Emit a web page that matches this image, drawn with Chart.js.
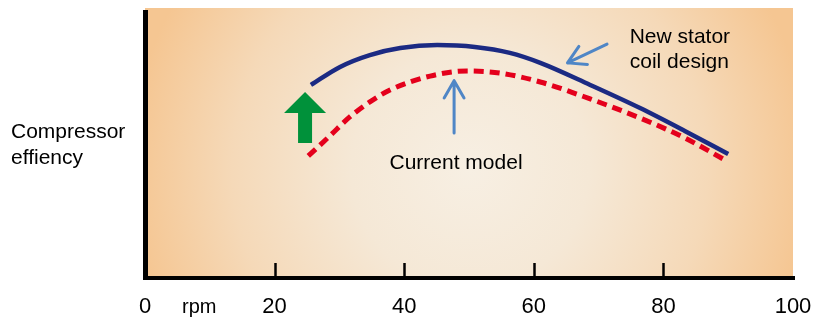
<!DOCTYPE html>
<html><head><meta charset="utf-8">
<script src="https://cdn.jsdelivr.net/npm/chart.js@4/dist/chart.umd.min.js"></script>
<style>html,body{margin:0;padding:0;background:#fff}#wrap{width:815px;height:322px;position:relative}</style>
</head><body><div id="wrap"><canvas id="c" width="815" height="322"></canvas></div>
<script>
// ---- data ----
const xTickValues = [0, 20, 40, 60, 80, 100];
const innerTickValues = [20, 40, 60, 80];
const newDesignRpm = [25.6, 30.1, 34.7, 39.4, 45.1, 50.9, 56.3, 61.0, 68.7, 76.4, 83.3, 90.0];
const newDesignEff = [71.4, 78.1, 82.5, 85.1, 86.2, 85.5, 83.3, 79.6, 71.4, 62.8, 54.3, 45.7];
const currentRpm = [25.2, 28.5, 31.6, 34.7, 37.8, 44.0, 49.7, 54.8, 61.0, 68.7, 76.4, 83.3, 89.5];
const currentEff = [45.0, 52.4, 59.5, 65.1, 69.5, 74.7, 76.6, 75.8, 72.5, 66.2, 59.1, 51.7, 43.5];
const seriesNames = ['New stator coil design', 'Current model'];
const yAxisLabel = ['Compressor', 'effiency'];
const xAxisUnit = 'rpm';

const FONT = "'Liberation Sans', Arial, sans-serif";
const toPts = (xs, ys) => xs.map((x, i) => ({x: x, y: ys[i]}));

const decor = {
  id: 'decor',
  beforeDraw(chart) {
    const {ctx, chartArea: a} = chart;
    ctx.save();
    const cx = (a.left + a.right) / 2 + 1, cy = a.top + (a.bottom - a.top) * 0.6;
    const g = ctx.createRadialGradient(cx, cy, 0, cx, cy, 340);
    g.addColorStop(0, '#f7efe3');
    g.addColorStop(0.35, '#f5e8d6');
    g.addColorStop(0.7, '#f5d9b8');
    g.addColorStop(1, '#f5c692');
    ctx.fillStyle = g;
    ctx.fillRect(a.left, a.top, a.right - a.left, a.bottom - a.top);
    ctx.restore();
  },
  afterDatasetsDraw(chart) {
    const {ctx, chartArea: a, scales: {x, y}} = chart;
    ctx.save();
    // axes
    ctx.strokeStyle = '#000';
    ctx.lineWidth = 5;
    ctx.beginPath();
    ctx.moveTo(a.left + 0.5, a.top + 2);
    ctx.lineTo(a.left + 0.5, a.bottom + 3);
    ctx.stroke();
    ctx.lineWidth = 4;
    ctx.beginPath();
    ctx.moveTo(a.left - 2, a.bottom + 1);
    ctx.lineTo(a.right + 2, a.bottom + 1);
    ctx.stroke();
    ctx.lineWidth = 2.5;
    innerTickValues.forEach(v => {
      const px = Math.round(x.getPixelForValue(v)) + 0.5;
      ctx.beginPath();
      ctx.moveTo(px, a.bottom - 14);
      ctx.lineTo(px, a.bottom);
      ctx.stroke();
    });
    // green block arrow
    const gx = x.getPixelForValue(24.7), gy = y.getPixelForValue(68.8);
    ctx.fillStyle = '#00913a';
    ctx.beginPath();
    ctx.moveTo(gx, gy);
    ctx.lineTo(gx + 21, gy + 21);
    ctx.lineTo(gx + 7, gy + 21);
    ctx.lineTo(gx + 7, gy + 51);
    ctx.lineTo(gx - 7, gy + 51);
    ctx.lineTo(gx - 7, gy + 21);
    ctx.lineTo(gx - 21, gy + 21);
    ctx.closePath();
    ctx.fill();
    // thin blue arrows
    const arrow = (x0, y0, x1, y1) => {
      const X0 = x.getPixelForValue(x0), Y0 = y.getPixelForValue(y0);
      const X1 = x.getPixelForValue(x1), Y1 = y.getPixelForValue(y1);
      const ang = Math.atan2(Y1 - Y0, X1 - X0);
      const L = 20, w = 0.52;
      ctx.strokeStyle = '#4f86c6';
      ctx.lineWidth = 3;
      ctx.lineCap = 'round';
      ctx.lineJoin = 'round';
      ctx.beginPath();
      ctx.moveTo(X0, Y0); ctx.lineTo(X1, Y1);
      ctx.moveTo(X1 - L * Math.cos(ang - w), Y1 - L * Math.sin(ang - w));
      ctx.lineTo(X1, Y1);
      ctx.lineTo(X1 - L * Math.cos(ang + w), Y1 - L * Math.sin(ang + w));
      ctx.stroke();
    };
    arrow(47.7, 53.5, 47.7, 73.0);
    arrow(71.3, 86.6, 65.2, 79.6);
    // texts
    ctx.fillStyle = '#000';
    ctx.font = '21px ' + FONT;
    ctx.textBaseline = 'alphabetic';
    ctx.textAlign = 'center';
    ctx.fillText(seriesNames[1], x.getPixelForValue(48.0), y.getPixelForValue(40.1));
    ctx.textAlign = 'left';
    ctx.fillText('New stator', x.getPixelForValue(74.8), y.getPixelForValue(87.0));
    ctx.fillText('coil design', x.getPixelForValue(74.8), y.getPixelForValue(77.7));
    ctx.fillText(yAxisLabel[0], 11, 138);
    ctx.fillText(yAxisLabel[1], 11, 164);
    ctx.font = '20px ' + FONT;
    ctx.fillText(xAxisUnit, 182, 313);
    ctx.restore();
  }
};

new Chart(document.getElementById('c'), {
  type: 'line',
  data: {
    datasets: [
      {
        label: seriesNames[0],
        data: toPts(newDesignRpm, newDesignEff),
        borderColor: '#1b2a83',
        borderWidth: 4.5,
        pointRadius: 0,
        cubicInterpolationMode: 'monotone',
        fill: false
      },
      {
        label: seriesNames[1],
        data: toPts(currentRpm, currentEff),
        borderColor: '#e4001c',
        borderWidth: 5,
        borderDash: [10, 6],
        pointRadius: 0,
        cubicInterpolationMode: 'monotone',
        fill: false
      }
    ]
  },
  options: {
    responsive: false,
    animation: false,
    devicePixelRatio: 1,
    layout: {padding: {left: 145, right: 22, top: 8, bottom: 0}},
    plugins: {legend: {display: false}, tooltip: {enabled: false}},
    scales: {
      x: {
        type: 'linear', min: 0, max: 100,
        afterFit: s => { s.height = 45; s.paddingLeft = 0; s.paddingRight = 0; },
        afterBuildTicks: s => { s.ticks = xTickValues.map(v => ({value: v})); },
        grid: {display: false, drawTicks: false},
        border: {display: false},
        ticks: {font: {size: 22, family: FONT}, color: '#000', padding: 17, maxRotation: 0, autoSkip: false}
      },
      y: {type: 'linear', min: 0, max: 100, display: false}
    }
  },
  plugins: [decor]
});
</script>
</body></html>
